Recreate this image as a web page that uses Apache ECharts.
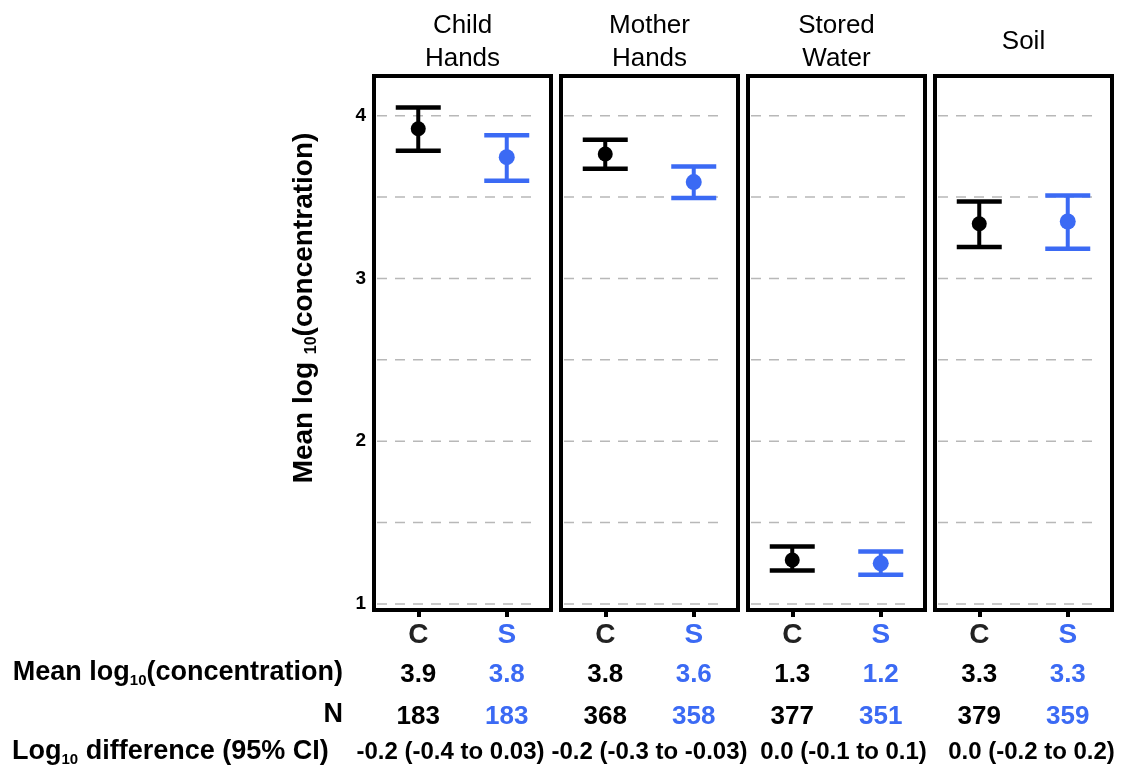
<!DOCTYPE html>
<html>
<head>
<meta charset="utf-8">
<script src="https://cdn.jsdelivr.net/npm/echarts@6/dist/echarts.min.js"></script>
<style>
  html, body { margin: 0; padding: 0; background: #fff; }
  #chart { width: 1122px; height: 766px; }
</style>
</head>
<body>
<div id="chart"></div>
<script>
// ---------- data ----------
const panels = ['Child\nHands', 'Mother\nHands', 'Stored\nWater', 'Soil'];
const groups = ['C', 'S'];
const meanC = [3.92, 3.765, 1.27, 3.336];
const loC   = [3.785, 3.674, 1.205, 3.193];
const hiC   = [4.05, 3.852, 1.353, 3.473];
const meanS = [3.745, 3.592, 1.25, 3.35];
const loS   = [3.60, 3.494, 1.18, 3.183];
const hiS   = [3.88, 3.688, 1.322, 3.51];
const tableMeanC = ['3.9', '3.8', '1.3', '3.3'];
const tableMeanS = ['3.8', '3.6', '1.2', '3.3'];
const nC = ['183', '368', '377', '379'];
const nS = ['183', '358', '351', '359'];
const diffs = ['-0.2 (-0.4 to 0.03)', '-0.2 (-0.3 to -0.03)', '0.0 (-0.1 to 0.1)', '0.0 (-0.2 to 0.2)'];
const yTicks = [1, 2, 3, 4];
const gridValues = [1, 1.5, 2, 2.5, 3, 3.5, 4];
const yMin = 0.963, yMax = 4.244;

// ---------- layout / style ----------
const FONT = 'Liberation Sans, Arial, sans-serif';
const BLUE = '#3b6af4';
const colors = ['#000000', BLUE];
const GRID_LEFT = 374, GRID_W = 177, GRID_STEP = 187, GRID_TOP = 76, GRID_H = 534;
const DIFF_SHIFT = [-12, 0, 7, 8];

const chart = echarts.init(document.getElementById('chart'), null, { renderer: 'canvas' });

function renderErr(params, api) {
  const x = api.value(0);
  const pm = api.coord([x, api.value(1)]);
  const plo = api.coord([x, api.value(2)]);
  const phi = api.coord([x, api.value(3)]);
  const color = colors[params.dataIndex];
  const hw = 22.5;
  return {
    type: 'group',
    children: [
      { type: 'line', shape: { x1: pm[0], y1: phi[1], x2: pm[0], y2: plo[1] }, style: { stroke: color, lineWidth: 4 } },
      { type: 'line', shape: { x1: pm[0] - hw, y1: phi[1], x2: pm[0] + hw, y2: phi[1] }, style: { stroke: color, lineWidth: 4.5 } },
      { type: 'line', shape: { x1: pm[0] - hw, y1: plo[1], x2: pm[0] + hw, y2: plo[1] }, style: { stroke: color, lineWidth: 4.5 } },
      { type: 'circle', shape: { cx: pm[0], cy: pm[1], r: params.dataIndex === 0 ? 7.5 : 8 }, style: { fill: color } }
    ]
  };
}

// dashed horizontal reference lines, placed through the y scale
function renderGridLine(params, api) {
  const cs = params.coordSys;
  const y = api.coord([0, api.value(0)])[1];
  return {
    type: 'line', silent: true,
    shape: { x1: cs.x + 3, y1: y, x2: cs.x + cs.width - 13, y2: y },
    style: { stroke: '#b8b8b8', lineWidth: 1.5, lineDash: [10, 8] }
  };
}

const grids = [], xAxes = [], yAxes = [], series = [], titles = [], graphics = [];
panels.forEach((p, i) => {
  const left = GRID_LEFT + i * GRID_STEP;
  grids.push({ left: left, top: GRID_TOP, width: GRID_W, height: GRID_H, show: true, borderColor: '#000', borderWidth: 4, backgroundColor: 'transparent', z: 10 });
  xAxes.push({
    type: 'category', gridIndex: i, data: groups, boundaryGap: true,
    axisLine: { show: false },
    axisTick: { show: true, alignWithLabel: true, length: 7, lineStyle: { color: '#000', width: 4 } },
    axisLabel: {
      margin: 6,
      formatter: function (v, idx) {
        const m = idx === 0 ? tableMeanC[i] : tableMeanS[i];
        const n = idx === 0 ? nC[i] : nS[i];
        return '{g' + idx + '|' + v + '}\n{m' + idx + '|' + m + '}\n{m' + idx + '|' + n + '}';
      },
      rich: {
        g0: { color: '#222', fontSize: 28, fontWeight: 'bold', fontFamily: FONT, lineHeight: 38 },
        g1: { color: BLUE, fontSize: 28, fontWeight: 'bold', fontFamily: FONT, lineHeight: 38 },
        m0: { color: '#000', fontSize: 26, fontWeight: 'bold', fontFamily: FONT, lineHeight: 42 },
        m1: { color: BLUE, fontSize: 26, fontWeight: 'bold', fontFamily: FONT, lineHeight: 42 }
      }
    },
    splitLine: { show: false }
  });
  yAxes.push({
    type: 'value', gridIndex: i, min: yMin, max: yMax,
    show: i === 0,
    axisLine: { show: false }, axisTick: { show: false }, splitLine: { show: false },
    axisLabel: { customValues: yTicks, margin: 8, color: '#000', fontSize: 19, fontWeight: 'bold', fontFamily: FONT }
  });
  series.push({
    type: 'custom', xAxisIndex: i, yAxisIndex: i, renderItem: renderGridLine, z: 1, silent: true,
    encode: { y: 0 },
    data: gridValues.map(v => [v])
  });
  series.push({
    type: 'custom', xAxisIndex: i, yAxisIndex: i, renderItem: renderErr, z: 5,
    data: [[0, meanC[i], loC[i], hiC[i]], [1, meanS[i], loS[i], hiS[i]]]
  });
  const lines = p.split('\n').length;
  titles.push({
    text: p, left: left + GRID_W / 2, textAlign: 'center', top: 9 + (2 - lines) * 16.5, padding: 0,
    textStyle: { color: '#000', fontSize: 26, fontWeight: 'normal', fontFamily: FONT, lineHeight: 33 }
  });
  graphics.push({
    type: 'text', x: left + GRID_W / 2 + DIFF_SHIFT[i], y: 752,
    style: { text: diffs[i], fill: '#000', font: 'bold 24px ' + FONT, textAlign: 'center', textVerticalAlign: 'middle' }
  });
});

const rowRich = { sub: { fontSize: 15, fontWeight: 'bold', fontFamily: FONT, verticalAlign: 'bottom', lineHeight: 15, fill: '#000' } };
// y-axis title
graphics.push({
  type: 'text', x: 304, y: 308, rotation: Math.PI / 2,
  style: { text: 'Mean log {sub|10}(concentration)', fill: '#000', fontSize: 28, fontWeight: 'bold', fontFamily: FONT, lineHeight: 32, align: 'center', verticalAlign: 'middle',
    rich: { sub: { fontSize: 16, fontWeight: 'bold', fontFamily: FONT, verticalAlign: 'bottom', lineHeight: 16, fill: '#000' } } }
});
graphics.push({
  type: 'text', x: 343, y: 673,
  style: { text: 'Mean log{sub|10}(concentration)', fill: '#000', fontSize: 27, fontWeight: 'bold', fontFamily: FONT, lineHeight: 30, align: 'right', verticalAlign: 'middle', rich: rowRich }
});
graphics.push({
  type: 'text', x: 343, y: 715,
  style: { text: 'N', fill: '#000', fontSize: 27, fontWeight: 'bold', fontFamily: FONT, align: 'right', verticalAlign: 'middle' }
});
graphics.push({
  type: 'text', x: 12, y: 752,
  style: { text: 'Log{sub|10} difference (95% CI)', fill: '#000', fontSize: 27, fontWeight: 'bold', fontFamily: FONT, lineHeight: 30, align: 'left', verticalAlign: 'middle', rich: rowRich }
});

chart.setOption({
  animation: false,
  backgroundColor: '#fff',
  title: titles,
  grid: grids,
  xAxis: xAxes,
  yAxis: yAxes,
  series: series,
  graphic: graphics
});
</script>
</body>
</html>
